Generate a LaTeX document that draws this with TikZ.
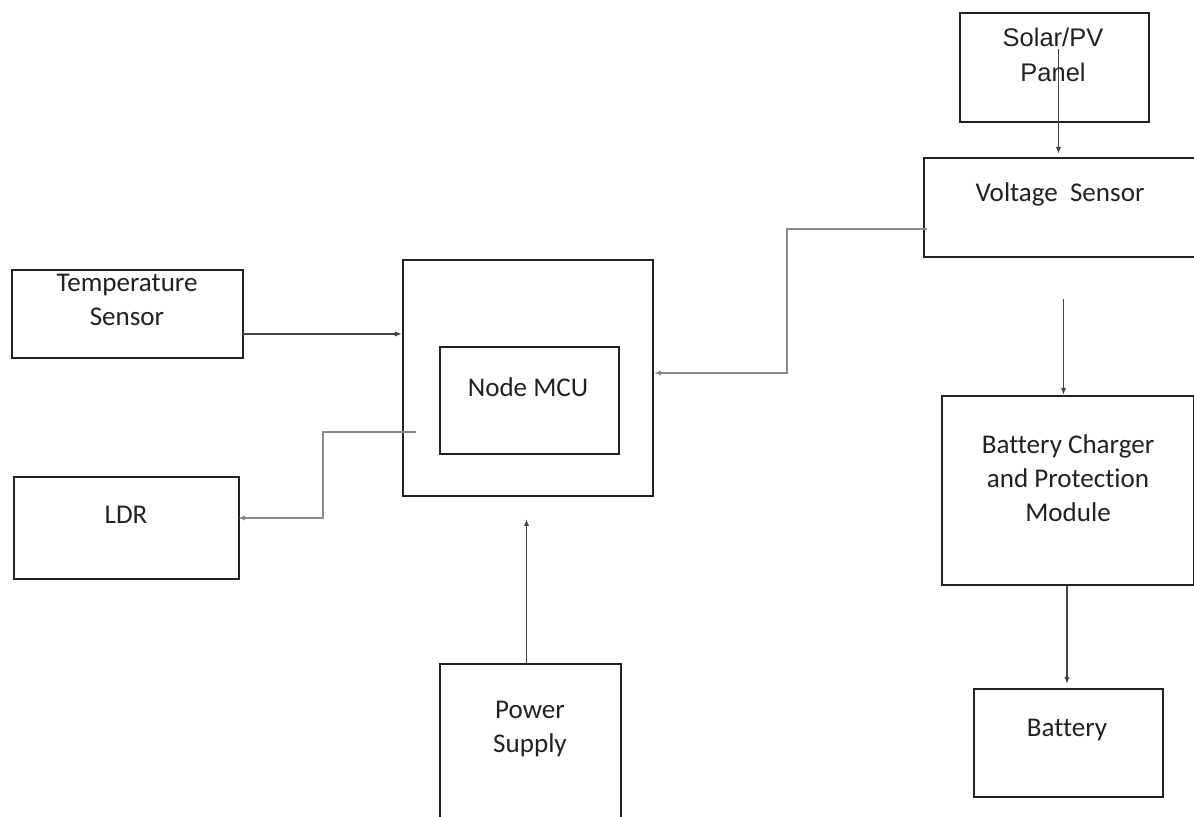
\documentclass[tikz,border=0pt]{standalone}
\usepackage{fontspec}
\setmainfont{Carlito}[Ligatures={NoCommon}]
\newfontfamily\arialf{Liberation Sans}
\usetikzlibrary{arrows.meta,calc}
\definecolor{ink}{HTML}{222222}
\definecolor{grayline}{HTML}{8A8A8A}
\definecolor{darkline}{HTML}{444444}
\begin{document}
\begin{tikzpicture}[x=0.02cm,y=-0.02cm,
  box/.style={draw=ink,line width=1.1pt,inner sep=0pt,anchor=north west},
  lbl/.style={text=ink,align=center,inner sep=0pt,font=\fontsize{15.4}{19.5}\selectfont},
  arr/.style={draw=darkline,line width=0.8pt,-{Latex[length=4pt,width=3pt]}},
  garr/.style={draw=grayline,line width=1.2pt,-{Latex[length=4pt,width=3pt]}}]
\clip (0,0) rectangle (1194,816);
\fill[white] (0,0) rectangle (1194,816);
% boxes
\node[box,minimum width=189*0.02cm,minimum height=109*0.02cm] (solar) at (959,12) {};
\node[box,minimum width=277*0.02cm,minimum height=99*0.02cm] (volt) at (923,157) {};
\node[box,minimum width=231*0.02cm,minimum height=88*0.02cm] (temp) at (11,269) {};
\node[box,minimum width=250*0.02cm,minimum height=236*0.02cm] (mcuO) at (402,259) {};
\node[box,minimum width=179*0.02cm,minimum height=107*0.02cm] (mcuI) at (439,346) {};
\node[box,minimum width=225*0.02cm,minimum height=102*0.02cm] (ldr) at (13,476) {};
\node[box,minimum width=252*0.02cm,minimum height=189*0.02cm] (chg) at (941,395) {};
\node[box,minimum width=181*0.02cm,minimum height=170*0.02cm] (ps) at (439,663) {};
\node[box,minimum width=189*0.02cm,minimum height=108*0.02cm] (bat) at (973,688) {};
% labels
\node[lbl,font=\arialf\fontsize{14.5}{19.5}\selectfont] (solarT) at (1053,55) {Solar/PV\\Panel};
\node[lbl] (voltT) at (1060,194) {Voltage\ \ Sensor};
\node[lbl] (tempT) at (127,300) {Temperature\\Sensor};
\node[lbl] (mcuT) at (528,387) {Node MCU};
\node[lbl] (ldrT) at (126,515) {LDR};
\node[lbl] (chgT) at (1068,478) {Battery Charger\\and Protection\\Module};
\node[lbl] (psT) at (530,729) {Power\\Supply};
\node[lbl] (batT) at (1067,730) {Battery};
% connectors
\coordinate (s1) at ($(solar.north)+(4,37)$);
\draw[arr] (s1) -- ($(s1 |- volt.north)+(0,-3)$);
\coordinate (t1) at ($(temp.east)+(-2,20)$);
\draw[arr] (t1) -- (t1 -| mcuO.west);
\coordinate (v1) at ($(volt.west)+(4,21.5)$);
\coordinate (v2) at ($(mcuO.east)+(0,-5)$);
\draw[garr] (v1) -- ++(-140,0) |- (v2);
\coordinate (m1) at ($(mcuO.west)+(14,54)$);
\coordinate (l1) at ($(ldr.east)+(-2,-10)$);
\draw[garr] (m1) -- ++(-93,0) |- (l1);
\coordinate (p1) at ($(ps.north)+(-4,0)$);
\coordinate (p2) at ($(p1 |- mcuO.south)+(0,22)$);
\draw[arr] (p1) -- (p2);
\coordinate (c0) at ($(volt.south)+(1,41)$);
\draw[arr] (c0) -- (c0 |- chg.north);
\coordinate (b0) at ($(chg.south)+(-1,0)$);
\draw[arr] (b0) -- ($(b0 |- bat.north)+(0,-4)$);
\end{tikzpicture}
\end{document}
